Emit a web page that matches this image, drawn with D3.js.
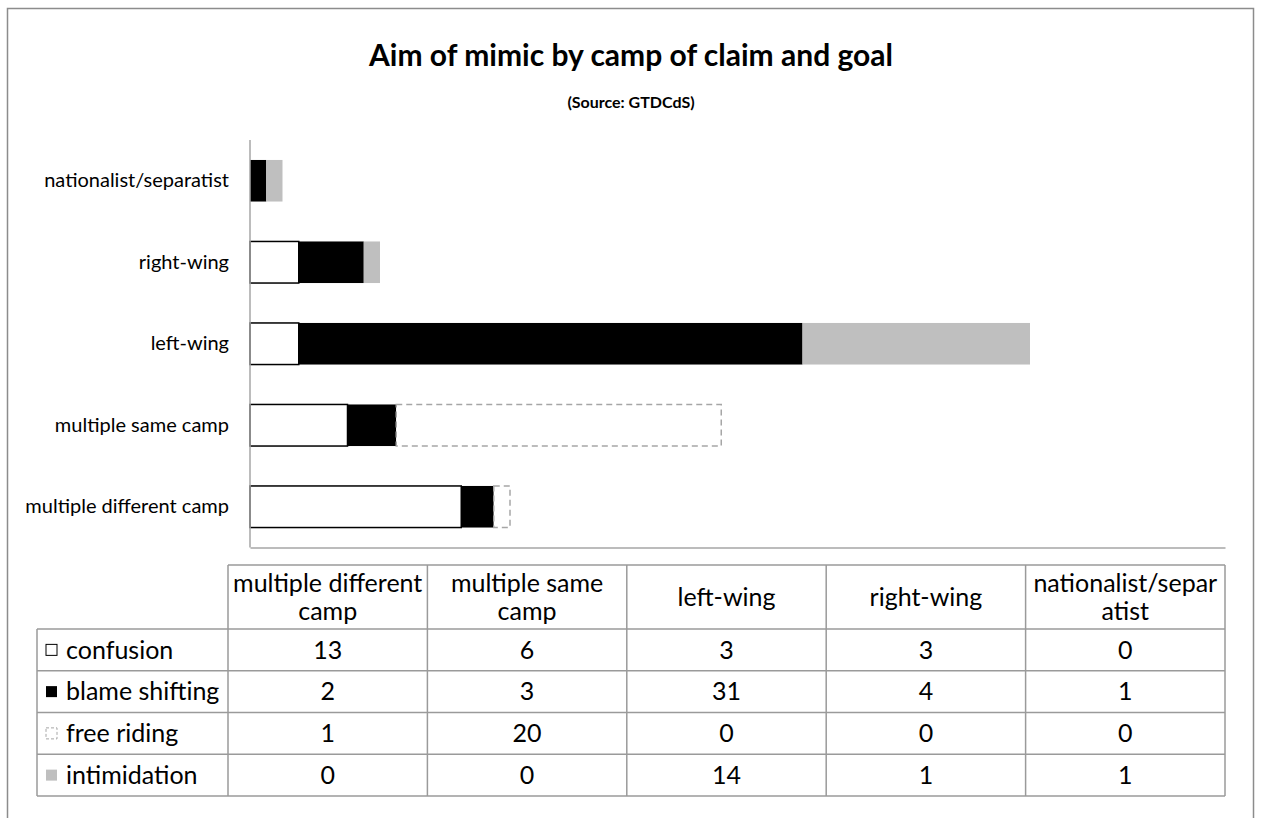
<!DOCTYPE html>
<html>
<head>
<meta charset="utf-8">
<script src="https://cdn.jsdelivr.net/npm/d3@7/dist/d3.min.js"></script>
<style>
  html, body { margin: 0; padding: 0; background: #fff; }
  svg { display: block; }
  text { font-family: Lato, "Open Sans", sans-serif; fill: #000; }
</style>
</head>
<body>
<svg id="chart" width="1262" height="818"></svg>
<script>
// Camps of claim and goal (bottom to top in the chart, left to right in the table)
const categories = ["multiple different camp", "multiple same camp", "left-wing", "right-wing", "nationalist/separatist"];
const headerLines = [["multiple different", "camp"], ["multiple same", "camp"], ["left-wing"], ["right-wing"], ["nationalist/separ", "atist"]];

// Aims of mimic
const seriesNames = ["confusion", "blame shifting", "free riding", "intimidation"];
const confusion     = [13, 6, 3, 3, 0];
const blameShifting = [2, 3, 31, 4, 1];
const freeRiding    = [1, 20, 0, 0, 0];
const intimidation  = [0, 0, 14, 1, 1];

const xMax = 60;

const svg = d3.select("#chart");

// outer frame
svg.append("rect").attr("x", 7.5).attr("y", 8.5).attr("width", 1246).attr("height", 830)
  .attr("fill", "#fff").attr("stroke", "#8c8c8c").attr("stroke-width", 1.5);

// titles
svg.append("text").attr("x", 631).attr("y", 66).attr("text-anchor", "middle")
  .attr("font-size", 30).attr("font-weight", "bold").text("Aim of mimic by camp of claim and goal");
svg.append("text").attr("x", 631).attr("y", 108).attr("text-anchor", "middle")
  .attr("font-size", 16).attr("font-weight", "bold").text("(Source: GTDCdS)");

// table rows built from the series arrays
const rows = seriesNames.map((name, i) => ({
  name,
  values: [confusion, blameShifting, freeRiding, intimidation][i]
}));

const data = categories.map((c, j) => {
  const o = { category: c };
  rows.forEach(r => { o[r.name] = r.values[j]; });
  return o;
});

const plot = { left: 250, right: 1225, top: 140, bottom: 547.5 };

const x = d3.scaleLinear().domain([0, xMax]).range([plot.left, plot.right]);
const y = d3.scaleBand().domain(categories.slice().reverse())
  .range([plot.top, plot.bottom]).paddingInner(0.49).paddingOuter(0.245);

const stack = d3.stack().keys(seriesNames);
const layers = stack(data);

const styles = {
  "confusion":      { fill: "#fff", stroke: "#000", dash: null },
  "blame shifting": { fill: "#000", stroke: "none", dash: null },
  "free riding":    { fill: "#fff", stroke: "#a6a6a6", dash: "6,4" },
  "intimidation":   { fill: "#bfbfbf", stroke: "none", dash: null }
};

const gBars = svg.append("g");
layers.forEach(layer => {
  const st = styles[layer.key];
  gBars.selectAll(null)
    .data(layer.filter(d => d[1] - d[0] > 0))
    .join("rect")
    .attr("x", d => x(d[0]))
    .attr("y", d => y(d.data.category))
    .attr("width", d => x(d[1]) - x(d[0]))
    .attr("height", y.bandwidth())
    .attr("fill", st.fill)
    .attr("stroke", st.stroke)
    .attr("stroke-width", st.stroke === "none" ? 0 : 1.5)
    .attr("stroke-dasharray", st.dash);
});

// category axis (left) and value axis baseline
const yAxis = d3.axisLeft(y).tickSize(0).tickPadding(21);
const gy = svg.append("g").attr("transform", `translate(${plot.left},0)`).call(yAxis);
gy.select(".domain").attr("stroke", "#a6a6a6").attr("stroke-width", 1.5)
  .attr("d", `M0,${plot.top}V${plot.bottom}`);
gy.selectAll(".tick text").attr("font-size", 20).attr("font-family", "Lato, 'Open Sans', sans-serif");

const xAxis = d3.axisBottom(x).tickValues([]).tickSize(0);
const gx = svg.append("g").attr("transform", `translate(0,${plot.bottom})`).call(xAxis);
gx.select(".domain").attr("stroke", "#a6a6a6").attr("stroke-width", 1.5);

// data table
const colX = d3.scaleBand().domain(categories).range([228, 1225]);
const tTop = 565, hdrBottom = 629, rowH = 41.75, labelLeft = 37;
const rowY = d3.scaleBand().domain(seriesNames).range([hdrBottom, hdrBottom + rowH * seriesNames.length]);
const tBottom = hdrBottom + rowH * seriesNames.length;
const lineColor = "#9a9a9a";
const gT = svg.append("g").attr("stroke", lineColor).attr("stroke-width", 1.5);
const tableFont = 25;

// header top + vertical lines
gT.append("line").attr("x1", 228).attr("x2", 1225).attr("y1", tTop).attr("y2", tTop);
categories.forEach(c => {
  gT.append("line").attr("x1", colX(c)).attr("x2", colX(c)).attr("y1", tTop).attr("y2", tBottom);
});
gT.append("line").attr("x1", 1225).attr("x2", 1225).attr("y1", tTop).attr("y2", tBottom);
gT.append("line").attr("x1", labelLeft).attr("x2", labelLeft).attr("y1", hdrBottom).attr("y2", tBottom);
// horizontal row lines
seriesNames.forEach(s => {
  gT.append("line").attr("x1", labelLeft).attr("x2", 1225).attr("y1", rowY(s)).attr("y2", rowY(s));
});
gT.append("line").attr("x1", labelLeft).attr("x2", 1225).attr("y1", tBottom).attr("y2", tBottom);

// header text
categories.forEach((c, j) => {
  const lines = headerLines[j];
  const cx = colX(c) + colX.bandwidth() / 2;
  const mid = (tTop + hdrBottom) / 2;
  const lh = 28;
  lines.forEach((ln, k) => {
    svg.append("text").attr("x", cx)
      .attr("y", mid + (k - (lines.length - 1) / 2) * lh)
      .attr("dy", "0.35em").attr("text-anchor", "middle").attr("font-size", tableFont).text(ln);
  });
});

// row labels with legend keys, and values
rows.forEach(r => {
  const cy = rowY(r.name) + rowY.bandwidth() / 2;
  const st = styles[r.name];
  svg.append("rect").attr("x", 46).attr("y", cy - 5.5).attr("width", 11).attr("height", 11)
    .attr("fill", st.fill)
    .attr("stroke", st.stroke === "none" ? "none" : (r.name === "confusion" ? "#000" : "#a6a6a6"))
    .attr("stroke-width", 1)
    .attr("stroke-dasharray", r.name === "free riding" ? "3,2" : null);
  svg.append("text").attr("x", 66).attr("y", cy).attr("dy", "0.35em")
    .attr("font-size", tableFont).text(r.name);
  r.values.forEach((v, j) => {
    svg.append("text").attr("x", colX(categories[j]) + colX.bandwidth() / 2).attr("y", cy)
      .attr("dy", "0.35em").attr("text-anchor", "middle").attr("font-size", tableFont).text(v);
  });
});
</script>
</body>
</html>
